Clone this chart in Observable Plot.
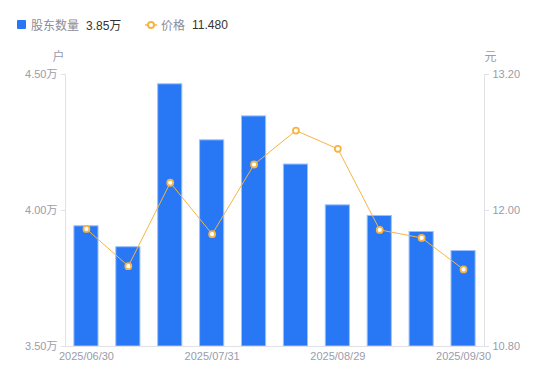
<!DOCTYPE html>
<html>
<head>
<meta charset="utf-8">
<script src="https://cdn.jsdelivr.net/npm/d3@7"></script>
<script src="https://cdn.jsdelivr.net/npm/@observablehq/plot@0.6"></script>
<style>
  html, body { margin: 0; padding: 0; background: #fff; }
  body { width: 550px; height: 381px; overflow: hidden; font-family: "Liberation Sans", "Noto Sans CJK SC", sans-serif; }
  #legend { height: 40px; position: relative; font-size: 12px; }
  #legend .item { position: absolute; top: 16px; display: flex; align-items: center; white-space: nowrap; }
  #legend .name { color: #8a8c99; }
  #legend .val { color: #333; margin-left: 7px; }
  svg { display: block; }
</style>
</head>
<body>
<div id="legend"></div>
<div id="chart"></div>
<script>
// ---- data ----
const dates = ["2025/06/30", "2025/07/10", "2025/07/20", "2025/07/31", "2025/08/10", "2025/08/20", "2025/08/29", "2025/09/10", "2025/09/19", "2025/09/30"];
const holders = [3.942, 3.865, 4.464, 4.258, 4.346, 4.169, 4.019, 3.980, 3.921, 3.851]; // 万户
const prices = [11.837, 11.509, 12.245, 11.791, 12.406, 12.705, 12.544, 11.829, 11.758, 11.480]; // 元
const xTickLabels = ["2025/06/30", "2025/07/31", "2025/08/29", "2025/09/30"];
const leftTicks = [3.5, 4.0, 4.5];
const rightTicks = [10.8, 12.0, 13.2];
const seriesNames = ["股东数量", "价格"];

const barColor = "#2877f5";
const lineColor = "#f6b445";
const textColor = "#9a9cab";
const axisColor = "#e2e2e6";

// map the price axis onto the holder axis
const yL = [3.5, 4.5], yR = [10.8, 13.2];
const toLeft = p => yL[0] + (p - yR[0]) / (yR[1] - yR[0]) * (yL[1] - yL[0]);
const toRight = v => yR[0] + (v - yL[0]) / (yL[1] - yL[0]) * (yR[1] - yR[0]);

const data = dates.map((d, i) => ({date: d, holders: holders[i], price: prices[i], priceL: toLeft(prices[i])}));

// legend
const legend = document.getElementById("legend");
legend.innerHTML = `
  <div class="item" style="left:17px"><span style="display:inline-block;width:9px;height:9px;background:${barColor};border-radius:1px;margin-right:5px"></span><span class="name">${seriesNames[0]}</span><span class="val">${holders[holders.length-1].toFixed(2)}万</span></div>
  <div class="item" style="left:145px"><svg width="12" height="10" style="margin-right:4px"><line x1="0" y1="5" x2="12" y2="5" stroke="${lineColor}" stroke-width="1.5"/><circle cx="6" cy="5" r="3" fill="#fff" stroke="${lineColor}" stroke-width="2"/></svg><span class="name">${seriesNames[1]}</span><span class="val">${prices[prices.length-1].toFixed(3)}</span></div>
`;

const chart = Plot.plot({
  width: 550,
  height: 341,
  marginTop: 34,
  marginBottom: 35,
  marginLeft: 65,
  marginRight: 66,
  style: {fontFamily: "'Liberation Sans', 'Noto Sans CJK SC', sans-serif", fontSize: "11px", color: textColor, background: "#fff"},
  x: {type: "band", domain: dates, paddingInner: 0.4, paddingOuter: 0.2, round: false, axis: null},
  y: {domain: yL, axis: null},
  marks: [
    Plot.barY(data, {x: "date", y1: yL[0], y2: "holders", fill: barColor, stroke: "#9cc0fb", strokeWidth: 1, insetLeft: 0.5, insetRight: 0.5}),
    Plot.ruleY([yL[0]], {stroke: axisColor, strokeWidth: 1}),
    Plot.frame({anchor: "left", stroke: axisColor}),
    Plot.frame({anchor: "right", stroke: axisColor}),
    Plot.axisY({anchor: "left", ticks: leftTicks, tickSize: 4, tickPadding: 4, tickFormat: d => d.toFixed(2) + "万", stroke: axisColor, fill: textColor, label: null}),
    Plot.axisY({anchor: "right", ticks: leftTicks, tickSize: 4, tickPadding: 4, tickFormat: d => toRight(d).toFixed(2), stroke: axisColor, fill: textColor, label: null}),
    Plot.axisX({ticks: xTickLabels, tickSize: 0, tickPadding: 6, fill: textColor, label: null}),
    Plot.text(["户"], {frameAnchor: "top-left", lineAnchor: "middle", dx: -7, dy: -17, fill: textColor, fontSize: 12, textAnchor: "middle"}),
    Plot.text(["元"], {frameAnchor: "top-right", lineAnchor: "middle", dx: 6, dy: -17, fill: textColor, fontSize: 12, textAnchor: "middle"}),
    Plot.line(data, {x: "date", y: "priceL", stroke: lineColor, strokeWidth: 1}),
    Plot.dot(data, {x: "date", y: "priceL", r: 3, fill: "#fff", stroke: lineColor, strokeWidth: 1.8})
  ]
});
document.getElementById("chart").appendChild(chart);
</script>
</body>
</html>
